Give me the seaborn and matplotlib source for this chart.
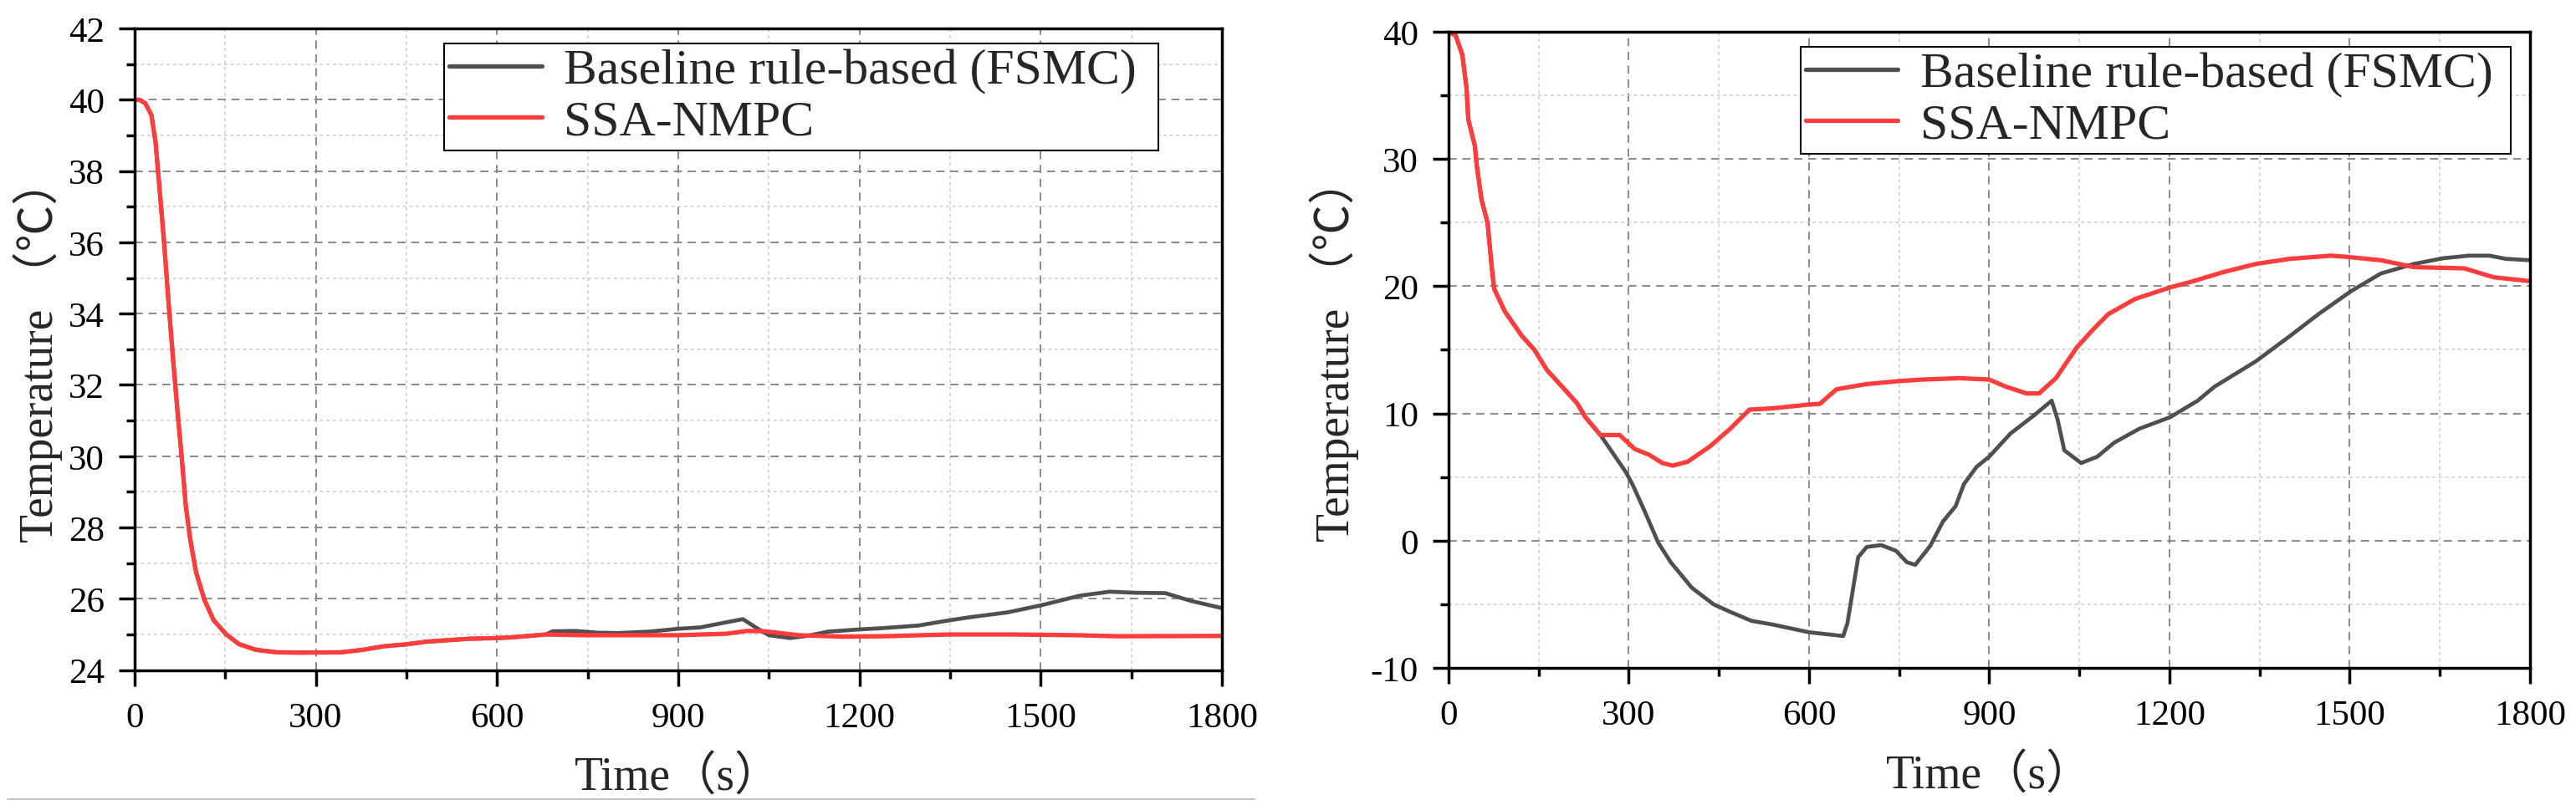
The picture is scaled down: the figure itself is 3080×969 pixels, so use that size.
import numpy as np
import pandas as pd
import matplotlib
matplotlib.use("Agg")
import matplotlib.pyplot as plt
from matplotlib.ticker import MultipleLocator
from matplotlib.lines import Line2D
import seaborn as sns

# ---------------- data ----------------
labels = ["Baseline rule-based (FSMC)", "SSA-NMPC"]

# Left panel
left_red_t = [0, 8, 18, 28, 35, 42, 49, 56, 64, 71, 78, 85, 92, 102, 116, 131, 152, 173, 201, 236,
              272, 342, 378, 413, 448, 484, 519, 554, 600, 625, 681, 746, 900, 979, 1014, 1043, 1099,
              1170, 1240, 1346, 1452, 1558, 1628, 1800]
left_red_v = [40.0, 40.0, 39.9, 39.57, 38.8, 37.4, 36.0, 34.4, 32.7, 31.3, 30.0, 28.6, 27.7, 26.74, 25.96,
              25.4, 25.0, 24.73, 24.57, 24.5, 24.49, 24.5, 24.57, 24.67, 24.72, 24.8, 24.84, 24.88, 24.9,
              24.92, 25.0, 24.98, 24.98, 25.02, 25.1, 25.09, 24.98, 24.94, 24.95, 25.0, 25.0, 24.98,
              24.95, 24.96]
left_base_t = [0, 8, 18, 28, 35, 42, 49, 56, 64, 71, 78, 85, 92, 102, 116, 131, 152, 173, 201, 236,
               272, 342, 378, 413, 448, 484, 519, 554, 600, 625, 681, 692, 730, 766, 801, 852, 900, 937,
               979, 1007, 1028, 1050, 1085, 1113, 1148, 1198, 1240, 1297, 1346, 1381, 1445, 1501, 1565,
               1614, 1657, 1706, 1749, 1800]
left_base_v = [40.0, 40.0, 39.9, 39.57, 38.8, 37.4, 36.0, 34.4, 32.7, 31.3, 30.0, 28.6, 27.7, 26.74, 25.96,
               25.4, 25.0, 24.73, 24.57, 24.5, 24.49, 24.5, 24.57, 24.67, 24.72, 24.8, 24.84, 24.88, 24.9,
               24.92, 25.0, 25.09, 25.1, 25.05, 25.04, 25.08, 25.16, 25.2, 25.34, 25.43, 25.2, 24.98, 24.9,
               24.96, 25.08, 25.14, 25.18, 25.25, 25.39, 25.48, 25.62, 25.82, 26.09, 26.2, 26.17, 26.16,
               25.94, 25.74]

# Right panel
right_red_t = [0, 12, 23, 30, 33, 44, 47, 55, 65, 72, 76, 94, 122, 143, 164, 193, 214, 228, 253, 285,
               310, 334, 356, 373, 398, 435, 469, 501, 540, 600, 618, 646, 695, 752, 788, 851, 900, 928,
               962, 983, 1011, 1046, 1073, 1098, 1143, 1201, 1240, 1289, 1344, 1400, 1469, 1497, 1552,
               1607, 1691, 1740, 1800]
right_red_v = [40.0, 39.7, 38.2, 35.6, 33.1, 31.0, 29.5, 26.8, 25.0, 21.5, 19.8, 18.0, 16.1, 15.0, 13.4,
               11.9, 10.8, 9.7, 8.3, 8.3, 7.2, 6.75, 6.1, 5.9, 6.2, 7.4, 8.8, 10.3, 10.4, 10.7, 10.75, 11.9,
               12.3, 12.55, 12.66, 12.77, 12.66, 12.1, 11.57, 11.57, 12.77, 15.2, 16.6, 17.8, 19.0, 19.9,
               20.4, 21.1, 21.75, 22.15, 22.4, 22.3, 22.04, 21.5, 21.4, 20.7, 20.4]
right_base_t = [0, 12, 23, 30, 33, 44, 47, 55, 65, 72, 76, 94, 122, 143, 164, 193, 214, 228, 253, 295,
                306, 327, 349, 370, 405, 441, 469, 504, 540, 600, 657, 664, 682, 696, 720, 745, 763, 777,
                802, 823, 844, 858, 879, 900, 935, 976, 1004, 1014, 1025, 1053, 1080, 1108, 1150, 1201,
                1247, 1275, 1344, 1400, 1448, 1502, 1552, 1607, 1656, 1698, 1733, 1760, 1800]
right_base_v = [40.0, 39.7, 38.2, 35.6, 33.1, 31.0, 29.5, 26.8, 25.0, 21.5, 19.8, 18.0, 16.1, 15.0, 13.4,
                11.9, 10.8, 9.7, 8.3, 5.4, 4.45, 2.26, -0.15, -1.7, -3.7, -5.0, -5.6, -6.3, -6.6, -7.2,
                -7.5, -6.5, -1.3, -0.5, -0.35, -0.8, -1.7, -1.9, -0.4, 1.5, 2.7, 4.45, 5.8, 6.6, 8.4, 9.9,
                11.0, 9.5, 7.1, 6.1, 6.6, 7.7, 8.8, 9.7, 11.0, 12.1, 14.1, 16.06, 17.8, 19.6, 21.0,
                21.75, 22.2, 22.4, 22.4, 22.15, 22.04]

x_ticks = [0, 300, 600, 900, 1200, 1500, 1800]
left_y_ticks = [24, 26, 28, 30, 32, 34, 36, 38, 40, 42]
right_y_ticks = [-10, 0, 10, 20, 30, 40]

# ---------------- style ----------------
sns.set_theme(style="white")
plt.rcParams['font.family'] = ['Liberation Serif', 'Noto Sans CJK SC']
plt.rcParams['axes.unicode_minus'] = False

GRAY = "#4f4f4f"
RED = "#ff3d3d"

fig = plt.figure(figsize=(30.8, 9.7), dpi=100)
ax1 = fig.add_axes([0.0522, 0.1725, 0.4744 - 0.0522, 0.9639 - 0.1725])
ax2 = fig.add_axes([0.5623, 0.1753, 0.9821 - 0.5623, 0.9598 - 0.1753])


def draw(ax, bt, bv, rt, rv, yticks, ymin, ymax, yminor, leg_box, ylab_x, ylab_y, xlab_y):
    sns.lineplot(x=bt, y=bv, ax=ax, color=GRAY, linewidth=3.4, label=labels[0],
                 estimator=None, sort=False)
    sns.lineplot(x=rt, y=rv, ax=ax, color=RED, linewidth=3.8, label=labels[1],
                 estimator=None, sort=False)
    ax.set_xlim(0, 1800)
    ax.set_ylim(ymin, ymax)
    ax.set_xticks(x_ticks)
    ax.set_yticks(yticks)
    ax.xaxis.set_minor_locator(MultipleLocator(150))
    ax.yaxis.set_minor_locator(MultipleLocator(yminor))
    ax.grid(which='major', color='#8a8a8a', linestyle=(0, (5, 3.5)), linewidth=1.4)
    ax.grid(which='minor', color='#cccccc', linestyle=(0, (2.5, 2.5)), linewidth=1.1)
    ax.set_axisbelow(True)
    for s in ax.spines.values():
        s.set_visible(True)
        s.set_color('black')
        s.set_linewidth(2.5)
    ax.tick_params(which='major', direction='out', length=14, width=2.5, colors='black',
                   labelsize=31, bottom=True, left=True, top=False, right=False)
    ax.tick_params(which='minor', direction='out', length=7, width=2.5, colors='black',
                   bottom=True, left=True, top=False, right=False)
    ax.tick_params(axis='x', which='major', pad=13)
    ax.tick_params(axis='y', which='major', pad=12)
    ax.set_xlabel("Time（s）", fontsize=40)
    ax.set_ylabel("Temperature （℃）", fontsize=40)
    ax.xaxis.label.set_verticalalignment('baseline')
    ax.yaxis.label.set_verticalalignment('baseline')
    ax.xaxis.set_label_coords(0.5, xlab_y)
    ax.yaxis.set_label_coords(ylab_x, ylab_y)
    leg = ax.legend(loc='upper left', bbox_to_anchor=leg_box, mode='expand', borderaxespad=0,
                    fontsize=43, handlelength=1.85, handletextpad=0.45, labelspacing=0.1,
                    borderpad=0.1, frameon=True, fancybox=False, framealpha=1)
    leg.get_frame().set_edgecolor('black')
    leg.get_frame().set_linewidth(1.5)
    for h in leg.legend_handles:
        h.set_linewidth(3.8)


draw(ax1, left_base_t, left_base_v, left_red_t, left_red_v, left_y_ticks, 24, 42, 1,
     (0.2848, 0.8072, 0.9416 - 0.2848, 0.9766 - 0.8072), -0.0751, 0.50, -0.1854)
draw(ax2, right_base_t, right_base_v, right_red_t, right_red_v, right_y_ticks, -10, 40, 5,
     (0.3256, 0.8108, 0.9822 - 0.3256, 0.9763 - 0.8108), -0.092, 0.502, -0.188)

fig.add_artist(Line2D([0.003, 0.487], [0.0134, 0.0134], color='#c4c4c4', linewidth=1.5))

fig.savefig("out.png", dpi=100)
